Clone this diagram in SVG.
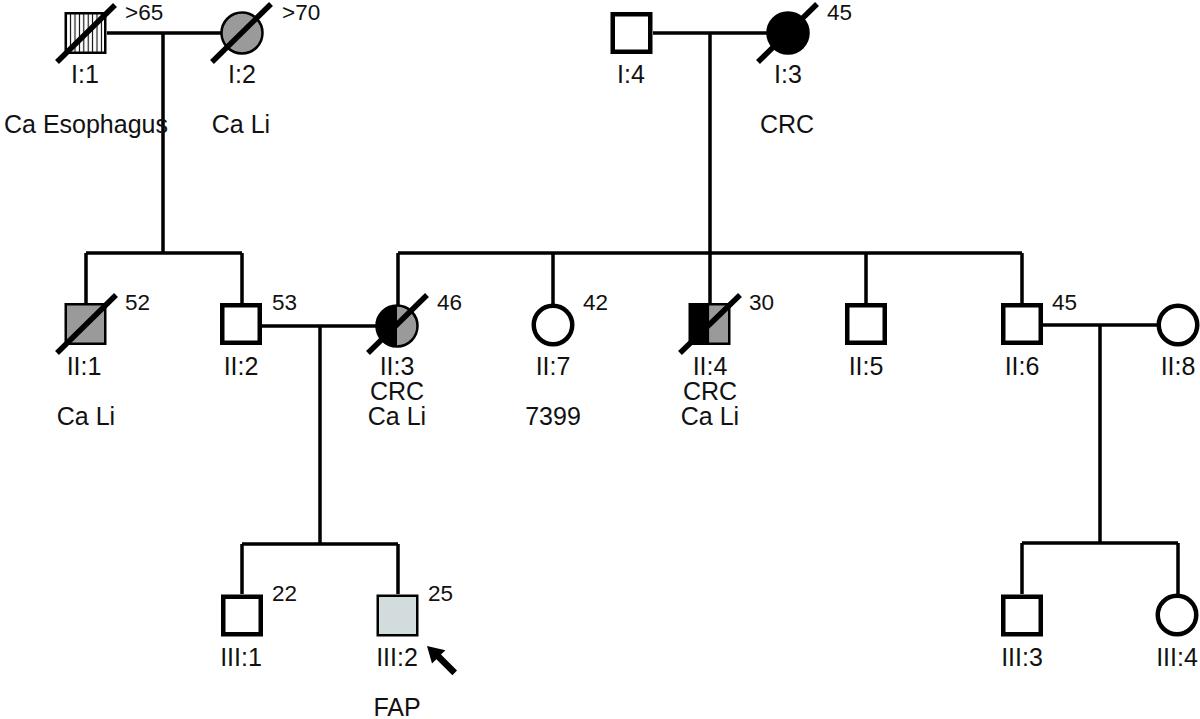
<svg xmlns="http://www.w3.org/2000/svg" width="1200" height="719" viewBox="0 0 1200 719">
<style>
.ln{stroke:#000;stroke-width:3.5;fill:none}
.thick{stroke:#000;stroke-width:4.5;fill:#fff}
.thin{stroke:#000;stroke-width:2.5}
.dead{stroke:#000;stroke-width:5.5;stroke-linecap:butt}
.gray{fill:#9a9a9a}
text{font-family:"Liberation Sans",Arial,sans-serif;fill:#111}
.lbl{font-size:25px;text-anchor:middle}
.age{font-size:22.5px}
</style>
<defs>
<pattern id="vstripe" patternUnits="userSpaceOnUse" x="64" y="0" width="4.4" height="10">
<rect width="4.4" height="10" fill="#fff"/>
<line x1="2.2" y1="0" x2="2.2" y2="10" stroke="#000" stroke-width="1.1"/>
</pattern>
</defs>
<rect width="1200" height="719" fill="#fff"/>
<g id="connectors">
<path class="ln" d="M107,33H221M163,33V253M86,253H242M86,253V303M242,253V303"/>
<path class="ln" d="M653,33H767M710,33V303M398,253H1022M398,253V306M553,253V305M866,253V303M1022,253V303"/>
<path class="ln" d="M262,326H377M320,326V544M242,544H398M242,544V594M398,544V594"/>
<path class="ln" d="M1043,325H1159M1100,325V543M1022,543H1178M1022,543V594M1178,543V595"/>
</g>
<g id="I1">
<rect x="65.75" y="13.25" width="39.5" height="39.5" class="thin" fill="url(#vstripe)"/>
<line x1="57" y1="62" x2="115" y2="5" class="dead"/>
<text x="125" y="20" class="age">&gt;65</text>
<text x="85" y="83" class="lbl">I:1</text>
<text x="86" y="133" class="lbl">Ca Esophagus</text>
</g>
<g id="I2">
<circle cx="242" cy="33" r="20.5" class="thin gray"/>
<line x1="212" y1="62" x2="271" y2="4" class="dead"/>
<text x="282" y="20" class="age">&gt;70</text>
<text x="242" y="83" class="lbl">I:2</text>
<text x="241" y="133" class="lbl">Ca Li</text>
</g>
<g id="I4">
<rect x="612.75" y="14.25" width="37.5" height="37.5" class="thick"/>
<text x="631" y="83" class="lbl">I:4</text>
</g>
<g id="I3">
<circle cx="788" cy="33" r="20.5" class="thin" fill="#000"/>
<line x1="758" y1="62" x2="817" y2="4" class="dead"/>
<text x="827" y="20" class="age">45</text>
<text x="788" y="83" class="lbl">I:3</text>
<text x="787" y="133" class="lbl">CRC</text>
</g>
<g id="II1">
<rect x="65.75" y="304.25" width="39.5" height="39.5" class="thin gray"/>
<line x1="57" y1="353" x2="116" y2="295" class="dead"/>
<text x="125" y="310" class="age">52</text>
<text x="84" y="375" class="lbl">II:1</text>
<text x="86" y="425" class="lbl">Ca Li</text>
</g>
<g id="II2">
<rect x="222.25" y="305.25" width="37.5" height="37.5" class="thick"/>
<text x="272" y="310" class="age">53</text>
<text x="241" y="375" class="lbl">II:2</text>
</g>
<g id="II3">
<path d="M397,305.5A20.5,20.5 0 0,0 397,346.5Z" fill="#000"/>
<path d="M397,305.5A20.5,20.5 0 0,1 397,346.5Z" class="gray"/>
<circle cx="397" cy="326" r="20.5" class="thin" fill="none"/>
<line x1="368" y1="353" x2="427" y2="295" class="dead"/>
<text x="437" y="310" class="age">46</text>
<text x="397" y="375" class="lbl">II:3</text>
<text x="397" y="400" class="lbl">CRC</text>
<text x="397" y="425" class="lbl">Ca Li</text>
</g>
<g id="II7">
<circle cx="553" cy="325" r="19.25" class="thick"/>
<text x="583" y="310" class="age">42</text>
<text x="553" y="375" class="lbl">II:7</text>
<text x="553" y="425" class="lbl">7399</text>
</g>
<g id="II4">
<rect x="689.75" y="304.25" width="19.75" height="39.5" fill="#000"/>
<rect x="709.5" y="304.25" width="19.75" height="39.5" class="gray"/>
<rect x="689.75" y="304.25" width="39.5" height="39.5" class="thin" fill="none"/>
<line x1="680" y1="353" x2="740" y2="295" class="dead"/>
<text x="749" y="310" class="age">30</text>
<text x="710" y="375" class="lbl">II:4</text>
<text x="710" y="400" class="lbl">CRC</text>
<text x="710" y="425" class="lbl">Ca Li</text>
</g>
<g id="II5">
<rect x="847.25" y="305.25" width="37.5" height="37.5" class="thick"/>
<text x="866" y="375" class="lbl">II:5</text>
</g>
<g id="II6">
<rect x="1003.25" y="305.25" width="37.5" height="37.5" class="thick"/>
<text x="1052" y="310" class="age">45</text>
<text x="1022" y="375" class="lbl">II:6</text>
</g>
<g id="II8">
<circle cx="1178" cy="325" r="19.25" class="thick"/>
<text x="1178" y="375" class="lbl">II:8</text>
</g>
<g id="III1">
<rect x="223.25" y="596.75" width="37.5" height="37.5" class="thick"/>
<text x="272" y="601" class="age">22</text>
<text x="241" y="666" class="lbl">III:1</text>
</g>
<g id="III2">
<rect x="377.75" y="595.75" width="39.5" height="39.5" class="thin" fill="#d3dcdc"/>
<text x="428" y="601" class="age">25</text>
<text x="397" y="666" class="lbl">III:2</text>
<text x="397" y="716" class="lbl">FAP</text>
<polygon points="427,646 445.4,650.2 441,654.6 457,670.6 452.4,675.2 436.4,659.2 432,663.6" fill="#000"/>
</g>
<g id="III3">
<rect x="1003.25" y="596.75" width="37.5" height="37.5" class="thick"/>
<text x="1022" y="666" class="lbl">III:3</text>
</g>
<g id="III4">
<circle cx="1177" cy="615" r="19.25" class="thick"/>
<text x="1177" y="666" class="lbl">III:4</text>
</g>
</svg>
